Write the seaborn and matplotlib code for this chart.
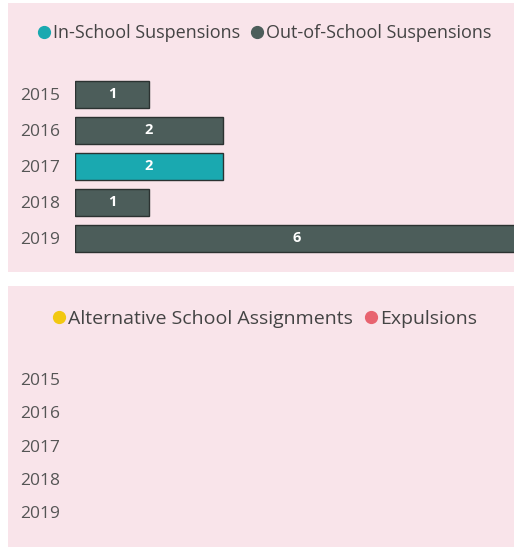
import pandas as pd
import matplotlib.pyplot as plt
import seaborn as sns
from matplotlib.patches import Rectangle
from matplotlib.lines import Line2D

years = ['2015', '2016', '2017', '2018', '2019']
susp_values = [1, 2, 2, 1, 6]
susp_types = ['Out-of-School Suspensions', 'Out-of-School Suspensions', 'In-School Suspensions',
              'Out-of-School Suspensions', 'Out-of-School Suspensions']
alt_values = [0, 0, 0, 0, 0]

top_series = ['In-School Suspensions', 'Out-of-School Suspensions']
bottom_series = ['Alternative School Assignments', 'Expulsions']
top_colors = {'In-School Suspensions': '#1aa9b0', 'Out-of-School Suspensions': '#4c5d5a'}
bottom_colors = {'Alternative School Assignments': '#f2c811', 'Expulsions': '#e8636f'}

df_top = pd.DataFrame({'year': years, 'count': susp_values, 'type': susp_types})
df_bot = pd.DataFrame({'year': years, 'count': alt_values, 'type': 'Expulsions'})

sns.set_style('white')
plt.rcParams['font.family'] = ['Open Sans', 'DejaVu Sans']

W, H = 514, 547
fig = plt.figure(figsize=(W / 100, H / 100), dpi=100, facecolor='white')
pink = '#f9e4ea'


def px_box(x0, y0, x1, y1):
    return [x0 / W, 1 - y1 / H, (x1 - x0) / W, (y1 - y0) / H]


# panel backgrounds
for (x0, y0, x1, y1) in [(8, 3, 514, 272), (8, 286, 514, 547)]:
    fig.add_artist(Rectangle((x0 / W, 1 - y1 / H), (x1 - x0) / W, (y1 - y0) / H,
                             transform=fig.transFigure, facecolor=pink, edgecolor='none', zorder=0))

# top chart
ax1 = fig.add_axes(px_box(75, 94 - 0.6 * 36, 519, 238 + 0.6 * 36))
sns.barplot(data=df_top, y='year', x='count', hue='type', hue_order=top_series,
            palette=top_colors, dodge=False, width=0.75, orient='h', saturation=1,
            edgecolor='#2b3231', linewidth=1.0, legend=False, ax=ax1)
for c in ax1.containers:
    labels = [f'{int(v)}' if v > 0 else '' for v in c.datavalues]
    ax1.bar_label(c, labels=labels, label_type='center', color='white',
                  fontsize=10.5, fontweight='bold')
ax1.set_xlim(0, 6)
ax1.set_ylim(4.6, -0.6)

# bottom chart
ax2 = fig.add_axes(px_box(75, 379 - 0.6 * 33.25, 519, 512 + 0.6 * 33.25))
sns.barplot(data=df_bot, y='year', x='count', hue='type', hue_order=bottom_series,
            palette=bottom_colors, dodge=False, width=0.75, orient='h', saturation=1,
            linewidth=0, legend=False, ax=ax2)
ax2.set_xlim(0, 6)
ax2.set_ylim(4.6, -0.6)

for ax in (ax1, ax2):
    ax.set_facecolor('none')
    ax.set_xlabel('')
    ax.set_ylabel('')
    ax.set_xticks([])
    ax.tick_params(axis='y', length=0, pad=10.5, labelsize=12.5, labelcolor='#555555')
    sns.despine(ax=ax, left=True, bottom=True)

# legends
def make_legend(names, colors, cx, cy, fs):
    handles = [Line2D([], [], marker='o', linestyle='', markersize=8.5,
                      markerfacecolor=colors[n], markeredgecolor=colors[n]) for n in names]
    fig.legend(handles, names, loc='center', bbox_to_anchor=(cx / W, 1 - cy / H),
               ncol=2, frameon=False, handlelength=0.6, handletextpad=0.2,
               columnspacing=0.6, fontsize=fs, labelcolor='#444444')


make_legend(top_series, top_colors, 265, 33, 13)
make_legend(bottom_series, bottom_colors, 265, 319, 14)

fig.savefig('out.png', dpi=100, facecolor='white')
